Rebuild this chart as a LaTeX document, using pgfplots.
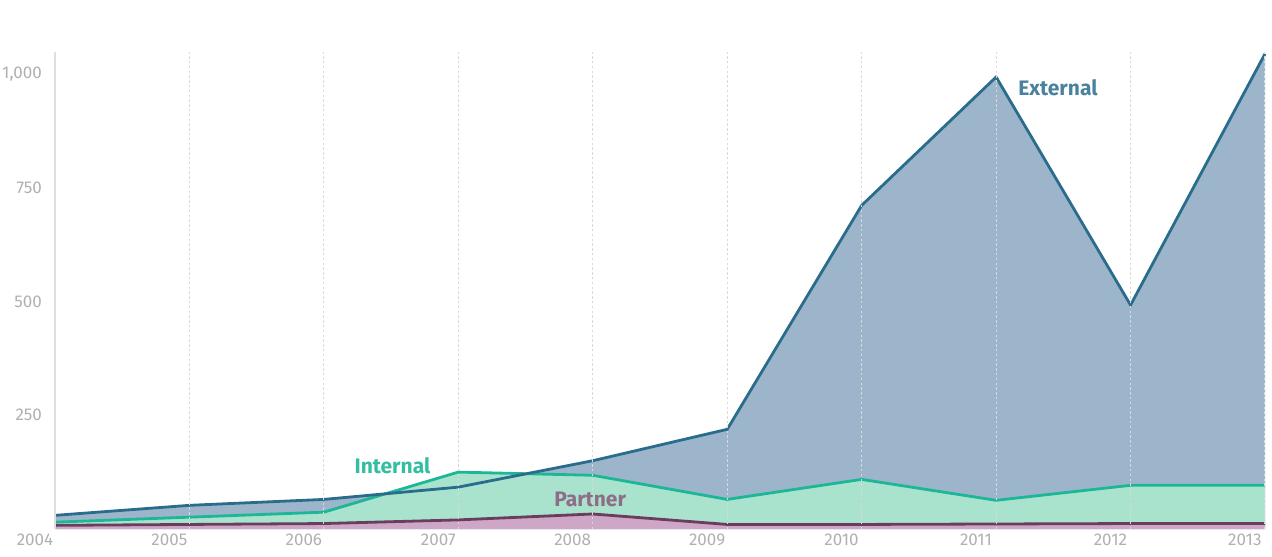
\documentclass[border=0pt]{standalone}
\usepackage{pgfplots}
\pgfplotsset{compat=1.18}
\usepackage{fontspec}
\setmainfont{Fira Sans}
\definecolor{extfill}{HTML}{9CB5CB}
\definecolor{extline}{HTML}{2A6C8C}
\definecolor{intfill}{HTML}{A9E3CE}
\definecolor{intline}{HTML}{1DB797}
\definecolor{parfill}{HTML}{CFA7C6}
\definecolor{parline}{HTML}{6A3C5E}
\definecolor{tickgray}{HTML}{B0B0B0}
\begin{document}
\begin{tikzpicture}
\begin{axis}[
  scale only axis,
  width=605pt, height=238.5pt,
  xmin=2004, xmax=2013, ymin=0, ymax=1048,
  axis lines*=left,
  x axis line style={draw=none},
  y axis line style={draw=gray!25, line width=0.8pt},
  major tick length=0pt,
  xtick={2004,...,2013},
  ytick={250,500,750,1000},
  xticklabels={2004,2005,2006,2007,2008,2009,2010,2011,2012,2013},
  /pgf/number format/assume math mode=true,
  /pgf/number format/1000 sep={,},
  ticklabel style={font=\fontsize{8.5}{10}\selectfont, text=tickgray},
  xticklabel style={anchor=north, xshift=-10pt, yshift=1pt},
  yticklabel style={anchor=east, xshift=-3pt},
  xmajorgrids,
  grid style={gray!30, dash pattern=on 1.2pt off 1.2pt, line width=0.4pt},
  axis on top,
  clip=false,
]
% External
\addplot[fill=extfill, draw=none] coordinates {
(2004,30) (2005,52) (2006,65) (2007,92) (2008,150) (2009,219) (2010,711) (2011,993) (2012,492) (2013,1044)
(2013,0) (2004,0)} -- cycle;
% Internal
\addplot[fill=intfill, draw=none] coordinates {
(2004,15) (2005,26) (2006,37) (2007,125) (2008,118) (2009,65) (2010,109) (2011,63) (2012,96) (2013,96)
(2013,0) (2004,0)} -- cycle;
% Partner
\addplot[fill=parfill, draw=none] coordinates {
(2004,8) (2005,10) (2006,12) (2007,20) (2008,33) (2009,10) (2010,10) (2011,11) (2012,12) (2013,12)
(2013,0) (2004,0)} -- cycle;
% lines
\addplot[draw=parline, line width=1.4pt] coordinates {
(2004,8) (2005,10) (2006,12) (2007,20) (2008,33) (2009,10) (2010,10) (2011,11) (2012,12) (2013,12)};
\addplot[draw=intline, line width=1.4pt] coordinates {
(2004,15) (2005,26) (2006,37) (2007,125) (2008,118) (2009,65) (2010,109) (2011,63) (2012,96) (2013,96)};
\addplot[draw=extline, line width=1.4pt] coordinates {
(2004,30) (2005,52) (2006,65) (2007,92) (2008,150) (2009,219) (2010,711) (2011,993) (2012,492) (2013,1044)};
\node[font=\fontsize{10.5}{12}\selectfont\bfseries, text=extline!85!white] at (axis cs:2011.46,969) {External};
\node[font=\fontsize{10.5}{12}\selectfont\bfseries, text=intline!90!white] at (axis cs:2006.51,138) {Internal};
\node[font=\fontsize{10.5}{12}\selectfont\bfseries, text=parline!75!white] at (axis cs:2007.98,64) {Partner};
\end{axis}
\pgfresetboundingbox
\path[use as bounding box] (-27.5pt,-13.5pt) rectangle (608.5pt,264.5pt);
\end{tikzpicture}
\end{document}
